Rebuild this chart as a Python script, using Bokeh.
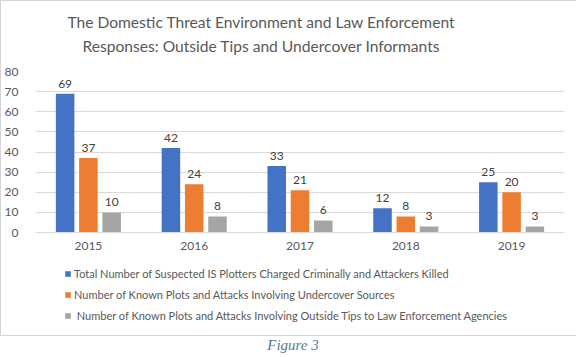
from bokeh.plotting import figure
from bokeh.models import (ColumnDataSource, FactorRange, Legend, LegendItem,
                          LabelSet, Div)
from bokeh.layouts import column
from bokeh.transform import dodge
from bokeh.core.properties import value
from bokeh.embed import file_html
from bokeh.resources import INLINE

title_lines = ["The Domestic Threat Environment and Law Enforcement",
               "Responses: Outside Tips and Undercover Informants"]
years = ["2015", "2016", "2017", "2018", "2019"]
charged_killed = [69, 42, 33, 12, 25]
undercover = [37, 24, 21, 8, 20]
outside_tips = [10, 8, 6, 3, 3]
series_names = [
    "Total Number of Suspected IS Plotters Charged Criminally and Attackers Killed",
    "Number of Known Plots and Attacks Involving Undercover Sources",
    " Number of Known Plots and Attacks Involving Outside Tips to Law Enforcement Agencies",
]
y_ticks = [0, 10, 20, 30, 40, 50, 60, 70, 80]

colors = ["#4472C4", "#ED7D31", "#A5A5A5"]
FONT = "Lato"
TXT = "#595959"

src = ColumnDataSource(dict(years=years, a=charged_killed, b=undercover, c=outside_tips,
                            la=[str(v) for v in charged_killed],
                            lb=[str(v) for v in undercover],
                            lc=[str(v) for v in outside_tips]))

title_div = Div(text="<br>".join(title_lines), width=576, height=56,
                styles={"font-family": FONT, "font-size": "15.6px", "color": TXT,
                        "text-align": "center", "width": "576px", "line-height": "24px",
                        "padding-top": "4px", "padding-right": "66px",
                        "white-space": "nowrap"})

p = figure(width=576, height=192, x_range=FactorRange(*years), y_range=(0, 80),
           output_backend="svg", toolbar_location=None,
           min_border_left=32, min_border_right=13, min_border_top=4, min_border_bottom=27)
p.outline_line_color = None
p.background_fill_color = "white"
p.border_fill_color = "white"

offsets = [-0.22, 0.0, 0.22]
keys = ["a", "b", "c"]
lkeys = ["la", "lb", "lc"]
for off, k, lk, col in zip(offsets, keys, lkeys, colors):
    p.vbar(x=dodge("years", off, range=p.x_range), top=k, width=0.175, source=src,
           fill_color=col, line_color=None)
    ls = LabelSet(x=dodge("years", off, range=p.x_range), y=k, text=lk, source=src,
                  text_align="center", text_baseline="bottom", y_offset=6,
                  text_font=value(FONT), text_font_size="12px", text_color="#404040")
    p.add_layout(ls)

p.yaxis.ticker = y_ticks
p.yaxis.axis_line_color = None
p.yaxis.major_tick_line_color = None
p.yaxis.minor_tick_line_color = None
p.yaxis.major_label_standoff = 11
p.yaxis.major_label_text_font = FONT
p.yaxis.major_label_text_font_size = "12px"
p.yaxis.major_label_text_color = TXT

p.xaxis.axis_line_color = "#d9d9d9"
p.xaxis.major_tick_line_color = None
p.xaxis.major_label_standoff = 3
p.xaxis.major_label_text_font = FONT
p.xaxis.major_label_text_font_size = "12px"
p.xaxis.major_label_text_color = TXT

p.xgrid.grid_line_color = None
p.ygrid.grid_line_color = "#d9d9d9"
p.ygrid.grid_line_width = 1

# legend panel: zero-size bars from the same data only provide the legend swatches
q = figure(width=576, height=76, x_range=FactorRange(*years), y_range=(-2, -1),
           output_backend="svg", toolbar_location=None,
           x_axis_type=None, y_axis_type=None,
           min_border_left=0, min_border_right=0, min_border_top=0, min_border_bottom=0)
q.outline_line_color = None
q.xgrid.grid_line_color = None
q.ygrid.grid_line_color = None
leg_renderers = [q.vbar(x="years", top=k, bottom=k, width=0, source=src,
                        fill_color=c, line_color=None)
                 for k, c in zip(keys, colors)]
legend = Legend(items=[LegendItem(label=n, renderers=[r]) for n, r in zip(series_names, leg_renderers)],
                location=(29, 13), orientation="vertical",
                label_text_font=FONT, label_text_font_size="11px", label_text_color=TXT,
                glyph_width=7, glyph_height=7, label_height=14, label_standoff=3, spacing=7,
                padding=0, margin=0, border_line_color=None, background_fill_alpha=0)
q.add_layout(legend, "center")

box = column(title_div, p, q, spacing=0, styles={"border": "1px solid #d4d4d4"})

cap = Div(text="Figure 3", width=576, height=20,
          styles={"font-family": "Liberation Serif", "font-style": "italic",
                  "font-size": "15px", "color": "#5B7A95", "text-align": "center",
                  "width": "576px", "line-height": "8px"})

layout = column(box, cap, spacing=0)
open("out.html", "w").write(file_html(layout, INLINE))
